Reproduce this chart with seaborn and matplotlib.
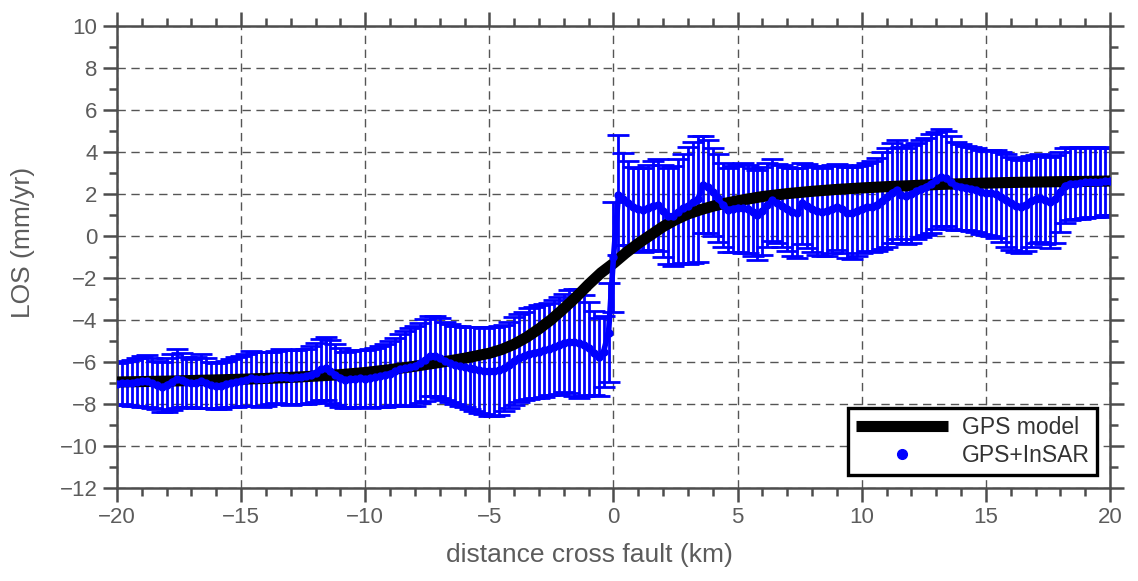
import numpy as np
import pandas as pd
import seaborn as sns
import matplotlib
matplotlib.use("Agg")
import matplotlib.pyplot as plt
from matplotlib.ticker import MultipleLocator
from matplotlib.lines import Line2D

# ---------------- data ----------------
# GPS model (black curve)
model_x = [-20, -19, -18, -17, -16, -15, -14, -13, -12, -11, -10, -9, -8, -7, -6,
           -5, -4.5, -4, -3.5, -3, -2.5, -2, -1.5, -1, -0.5, 0, 0.5, 1, 1.5, 2, 2.5,
           3, 3.5, 4, 4.5, 5, 6, 7, 8, 9, 10, 11, 12, 13, 14, 15, 16, 17, 18, 19, 20]
model_los = [-6.95, -6.93, -6.91, -6.88, -6.85, -6.82, -6.78, -6.73, -6.67, -6.6, -6.5,
             -6.36, -6.2, -6.02, -5.82, -5.58, -5.4, -5.15, -4.82, -4.42, -3.97, -3.45,
             -2.9, -2.3, -1.75, -1.3, -0.8, -0.35, 0.05, 0.45, 0.78, 1.05, 1.25, 1.42,
             1.56, 1.68, 1.88, 2.02, 2.13, 2.22, 2.29, 2.35, 2.4, 2.45, 2.49, 2.52,
             2.55, 2.57, 2.59, 2.6, 2.62]

# GPS+InSAR profile, sampled every 0.2 km from -20 to 20
profile_x = np.round(np.linspace(-20, 20, 201), 2)
profile_los = [
    -7.05, -7.0, -6.98, -7.0, -6.95, -6.92, -6.9, -7.0, -7.1, -7.2,
    -7.1, -6.95, -6.8, -6.85, -6.95, -7.0, -6.98, -6.9, -7.0, -7.1,
    -7.15, -7.12, -7.05, -7.0, -6.95, -6.9, -6.85, -6.78, -6.8, -6.82,
    -6.8, -6.75, -6.72, -6.7, -6.72, -6.75, -6.72, -6.7, -6.68, -6.6,
    -6.5, -6.35, -6.3, -6.45, -6.6, -6.75, -6.85, -6.82, -6.8, -6.78,
    -6.8, -6.78, -6.72, -6.68, -6.62, -6.55, -6.45, -6.35, -6.3, -6.25,
    -6.2, -6.05, -5.9, -5.72, -5.7, -5.8, -5.95, -6.05, -6.15, -6.2,
    -6.25, -6.3, -6.35, -6.4, -6.42, -6.45, -6.45, -6.4, -6.3, -6.15,
    -5.95, -5.8, -5.7, -5.6, -5.55, -5.5, -5.45, -5.38, -5.3, -5.2,
    -5.1, -5.03, -5.05, -5.1, -5.2, -5.35, -5.55, -5.75, -5.5, -4.6,
    -1.0,
    1.95, 1.75, 1.55, 1.4, 1.3, 1.24, 1.35, 1.45, 1.48, 1.2,
    0.95, 0.95, 1.15, 1.33, 1.45, 1.6, 1.75, 2.45, 2.35, 2.1,
    1.8, 1.5, 1.25, 1.3, 1.35, 1.33, 1.3, 1.15, 1.0, 1.2,
    1.5, 1.7, 1.55, 1.45, 1.3, 1.15, 1.1, 1.55, 1.45, 1.3,
    1.18, 1.15, 1.2, 1.3, 1.4, 1.3, 1.12, 1.1, 1.2, 1.3,
    1.4, 1.4, 1.5, 1.68, 1.85, 2.05, 2.2, 1.95, 1.9, 2.0,
    2.15, 2.25, 2.35, 2.5, 2.65, 2.8, 2.75, 2.55, 2.4, 2.35,
    2.3, 2.25, 2.2, 2.1, 2.05, 2.05, 2.0, 1.85, 1.7, 1.55,
    1.45, 1.4, 1.5, 1.65, 1.75, 1.8, 1.7, 1.6, 1.75, 2.1,
    2.4, 2.5, 2.5, 2.52, 2.55, 2.55, 2.57, 2.58, 2.6, 2.6,
]
profile_err = [
    1.0, 1.0, 1.05, 1.1, 1.15, 1.2, 1.25, 1.2, 1.15, 1.2,
    1.3, 1.35, 1.4, 1.3, 1.2, 1.15, 1.2, 1.3, 1.2, 1.1,
    1.1, 1.1, 1.1, 1.15, 1.2, 1.2, 1.25, 1.3, 1.3, 1.3,
    1.3, 1.25, 1.25, 1.3, 1.3, 1.3, 1.3, 1.3, 1.3, 1.35,
    1.4, 1.45, 1.5, 1.5, 1.45, 1.4, 1.35, 1.35, 1.35, 1.35,
    1.35, 1.4, 1.4, 1.45, 1.5, 1.55, 1.6, 1.7, 1.8, 1.85,
    1.9, 1.9, 1.95, 1.9, 1.9, 1.9, 1.85, 1.85, 1.85, 1.9,
    1.9, 1.95, 2.0, 2.05, 2.05, 2.1, 2.1, 2.1, 2.05, 2.05,
    2.1, 2.1, 2.1, 2.15, 2.15, 2.2, 2.2, 2.2, 2.25, 2.3,
    2.35, 2.45, 2.55, 2.6, 2.4, 2.2, 2.0, 1.85, 1.7, 2.35,
    2.6,
    2.85, 2.2, 2.0, 1.9, 1.95, 2.0, 2.05, 2.1, 2.2, 2.2,
    2.3, 2.4, 2.5, 2.6, 2.8, 2.9, 3.0, 2.3, 2.2, 2.1,
    2.1, 2.0, 2.0, 2.05, 2.1, 2.15, 2.1, 2.1, 2.15, 2.1,
    2.0, 1.95, 1.9, 1.95, 2.0, 2.1, 2.15, 1.95, 2.0, 2.05,
    2.1, 2.1, 2.15, 2.1, 2.05, 2.1, 2.15, 2.2, 2.15, 2.1,
    2.1, 2.15, 2.2, 2.3, 2.35, 2.4, 2.35, 2.3, 2.3, 2.35,
    2.3, 2.3, 2.3, 2.35, 2.3, 2.3, 2.25, 2.2, 2.1, 2.05,
    2.0, 2.0, 2.0, 2.0, 2.0, 2.05, 2.1, 2.15, 2.2, 2.2,
    2.2, 2.2, 2.2, 2.15, 2.1, 2.1, 2.1, 2.15, 2.1, 1.9,
    1.8, 1.75, 1.7, 1.7, 1.7, 1.65, 1.65, 1.65, 1.6, 1.6,
]

x_ticks = [-20, -15, -10, -5, 0, 5, 10, 15, 20]
y_ticks = [-12, -10, -8, -6, -4, -2, 0, 2, 4, 6, 8, 10]
x_label = "distance cross fault (km)"
y_label = "LOS (mm/yr)"
legend_labels = ["GPS model", "GPS+InSAR"]

# ---------------- style ----------------
sns.set_theme(style="ticks")
plt.rcParams["font.family"] = ["Liberation Sans", "DejaVu Sans"]

frame_c = "#4d4d4d"
text_c = "#5c5c5c"
blue = "#0000ff"

fig = plt.figure(figsize=(11.38, 5.81), dpi=100)
ax = fig.add_axes([0.1028, 0.160, 0.8726, 0.7952])

model_df = pd.DataFrame({"x": model_x, "los": model_los})
prof_df = pd.DataFrame({"x": profile_x, "los": profile_los, "err": profile_err})

# error bars
ax.errorbar(prof_df["x"], prof_df["los"], yerr=prof_df["err"], fmt="none",
            ecolor=blue, elinewidth=2.0, capsize=8, capthick=2.0, zorder=2)
# model
sns.lineplot(data=model_df, x="x", y="los", ax=ax, color="black", linewidth=8,
             zorder=3, legend=False, solid_capstyle="butt")
# profile line
sns.lineplot(data=prof_df, x="x", y="los", ax=ax, color=blue, linewidth=4,
             marker="o", markersize=6, markeredgewidth=0, zorder=4, legend=False)

ax.set_xlim(-20, 20)
ax.set_ylim(-12, 10)
ax.set_xticks(x_ticks)
ax.set_yticks(y_ticks)
ax.xaxis.set_minor_locator(MultipleLocator(1))
ax.yaxis.set_minor_locator(MultipleLocator(1))
ax.tick_params(which="both", direction="out", color=frame_c, width=1.8,
               top=True, right=True, labelsize=16, labelcolor=text_c)
ax.tick_params(which="major", length=10, pad=4)
ax.tick_params(which="minor", length=5.5)

for s in ax.spines.values():
    s.set_visible(True)
    s.set_color(frame_c)
    s.set_linewidth(1.8)

ax.grid(True, which="major", linestyle=(0, (6, 4)), color="#555555", linewidth=1.0, zorder=0)
ax.set_axisbelow(True)

ax.set_xlabel(x_label, fontsize=19, color=text_c)
ax.set_ylabel(y_label, fontsize=19, color=text_c)
ax.xaxis.set_label_coords(0.476, -0.118)
ax.yaxis.set_label_coords(-0.083, 0.532)

handles = [Line2D([0], [0], color="black", linewidth=8, solid_capstyle="butt"),
           Line2D([0], [0], color=blue, linestyle="none", marker="o", markersize=7)]
leg = ax.legend(handles, legend_labels, loc="lower right", fontsize=16.5,
                frameon=True, fancybox=False, framealpha=1, edgecolor="black",
                borderaxespad=0.55, handlelength=4.0, handletextpad=0.6,
                borderpad=0.35, labelspacing=0.25, labelcolor="#333333")
leg.get_frame().set_linewidth(2.4)

fig.savefig("out.png", dpi=100)
